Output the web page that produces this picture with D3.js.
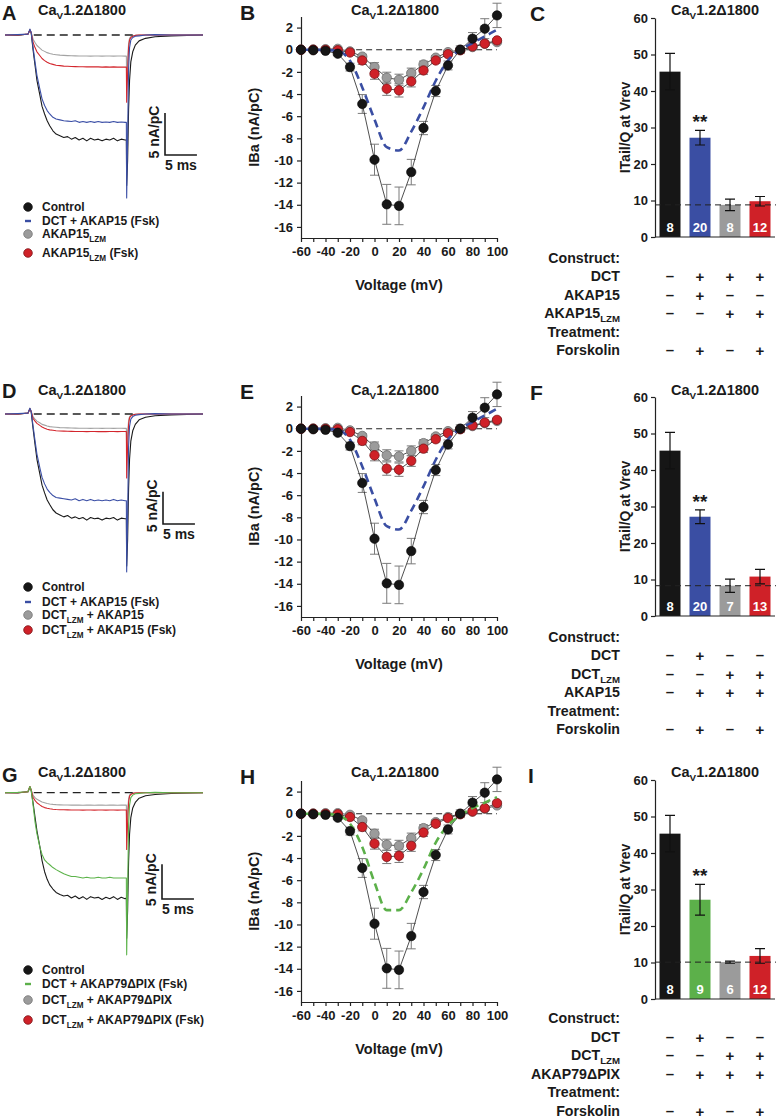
<!DOCTYPE html>
<html><head><meta charset="utf-8">
<script src="https://cdn.jsdelivr.net/npm/d3@7"></script>
<style>
body{margin:0;background:#fff;}
svg text{font-family:"Liberation Sans",Arial,Helvetica,sans-serif;font-weight:bold;}
</style></head><body>
<svg id="fig" width="777" height="1119" xmlns="http://www.w3.org/2000/svg"></svg>
<script>
// ---------------- DATA ----------------
const voltages = [-60,-50,-40,-30,-20,-10,0,10,20,30,40,50,60,70,80,90,100];
const ivControl    = [0,-0.05,-0.1,-0.36,-1.57,-4.9,-9.93,-13.96,-14.1,-11.05,-7.07,-3.73,-1.42,0.0,1.0,1.9,3.1];
const ivControlErr = [0.05,0.05,0.1,0.15,0.35,0.85,1.4,1.8,1.7,1.15,0.6,0.5,0.4,0.35,0.55,0.9,1.1];
const ivGrayB  = [0,0.02,0.05,0.08,-0.15,-0.62,-1.57,-2.53,-2.71,-2.11,-1.33,-0.72,-0.22,0.0,0.24,0.54,0.69];
const ivRedB   = [0,0,-0.02,-0.05,-0.25,-0.97,-2.17,-3.52,-3.67,-2.86,-1.87,-0.97,-0.4,-0.05,0.3,0.55,0.84];
const ivBlueB  = [0,0,-0.03,-0.1,-1.0,-3.4,-6.3,-8.8,-9.1,-7.4,-5.2,-2.8,-0.97,0.0,0.6,1.2,1.8];
const ivGrayE  = [0,0.02,0.05,0.08,-0.15,-0.65,-1.6,-2.4,-2.5,-2.0,-1.3,-0.7,-0.22,0.0,0.24,0.5,0.7];
const ivRedE   = [0,0,-0.02,-0.05,-0.3,-1.1,-2.4,-3.6,-3.7,-2.9,-1.8,-0.95,-0.4,-0.05,0.3,0.55,0.8];
const ivBlueE  = [0,0,-0.03,-0.1,-1.0,-3.4,-6.3,-8.8,-9.1,-7.4,-5.2,-2.8,-0.97,0.0,0.6,1.2,1.8];
const ivGrayH  = [0,0.02,0.05,0.05,-0.1,-0.6,-1.8,-2.8,-2.9,-2.2,-1.3,-0.76,-0.3,0.0,0.2,0.45,0.75];
const ivRedH   = [0,0,-0.02,-0.05,-0.3,-1.2,-2.7,-3.9,-3.8,-2.9,-1.7,-0.9,-0.4,-0.05,0.2,0.5,0.96];
const ivGreenH = [0,0,-0.03,-0.15,-0.9,-3.0,-6.2,-8.7,-8.7,-7.1,-5.0,-2.6,-1.06,-0.15,0.5,1.0,1.5];
const ivGrayErr = [0.05,0.05,0.05,0.1,0.15,0.2,0.4,0.5,0.5,0.45,0.3,0.2,0.15,0.15,0.15,0.15,0.15];
const ivRedErr  = [0.05,0.05,0.05,0.1,0.2,0.35,0.5,0.6,0.6,0.5,0.35,0.25,0.2,0.15,0.15,0.15,0.15];

// current traces (ms, nA/pC)
const traceTime = [0,2,3.6,3.9,4.1,4.4,4.7,5.0,5.5,5.8,6.2,6.6,7.0,7.5,8.0,8.6,9.2,9.8,10.4,11.0,11.6,12.2,12.8,13.4,14.0,14.6,15.2,15.8,16.4,17.0,17.6,18.2,18.8,19.0,19.05,19.2,19.35,19.5,19.7,20.0,20.4,21.0,22.0,23.5,26.0,31.0];
const trA_black = [0,-0.05,0.12,0.6,0.24,-1.8,-3.6,-5.4,-7.3,-8.5,-9.4,-10.2,-10.8,-11.4,-11.8,-12.0,-12.2,-12.1,-12.4,-12.2,-12.5,-12.3,-12.6,-12.3,-12.5,-12.4,-12.6,-12.4,-12.5,-12.3,-12.6,-12.4,-12.5,-12.5,-17.9,-14.9,-8.9,-5.4,-3.2,-2.0,-1.2,-0.7,-0.4,-0.2,-0.1,0];
const trA_blue  = [0,0.05,0.1,0.7,0.3,-1.5,-3.2,-4.8,-6.6,-7.6,-8.4,-9.0,-9.4,-9.8,-10.0,-10.1,-10.2,-10.25,-10.3,-10.2,-10.4,-10.3,-10.4,-10.3,-10.4,-10.3,-10.4,-10.35,-10.4,-10.3,-10.4,-10.35,-10.4,-10.4,-19.4,-12.0,-4.0,-1.5,-0.6,-0.3,-0.15,-0.1,0,0.05,0,0];
const trA_gray  = [0,0,0.1,0.6,0.3,-0.5,-0.9,-1.25,-1.6,-1.8,-1.95,-2.1,-2.2,-2.3,-2.35,-2.4,-2.42,-2.45,-2.47,-2.48,-2.5,-2.5,-2.5,-2.52,-2.5,-2.5,-2.52,-2.5,-2.5,-2.52,-2.5,-2.5,-2.52,-2.5,-5.5,-3.0,-1.0,-0.4,-0.2,-0.1,-0.05,0,0,0,0,0];
const trA_red   = [0,0,0.1,0.6,0.3,-0.9,-1.5,-2.0,-2.5,-2.8,-3.05,-3.25,-3.4,-3.5,-3.6,-3.65,-3.7,-3.72,-3.75,-3.76,-3.78,-3.78,-3.8,-3.8,-3.8,-3.8,-3.82,-3.8,-3.82,-3.8,-3.82,-3.82,-3.82,-3.82,-8.0,-4.5,-1.5,-0.6,-0.3,-0.15,-0.05,0,0,0,0,0];
const trD_black = [0,-0.05,0.15,0.8,0.3,-2.3,-4.7,-7.0,-9.5,-11.0,-12.2,-13.3,-14.0,-14.8,-15.3,-15.6,-15.9,-15.7,-16.1,-15.9,-16.2,-16.0,-16.4,-16.0,-16.2,-16.1,-16.4,-16.1,-16.2,-16.0,-16.4,-16.1,-16.2,-16.2,-23.5,-19.4,-11.6,-7.0,-4.2,-2.6,-1.6,-0.9,-0.5,-0.26,-0.13,0];
const trD_blue  = [0,0.06,0.13,0.9,0.4,-1.9,-4.1,-6.2,-8.5,-9.8,-10.8,-11.6,-12.1,-12.6,-12.9,-13.0,-13.1,-13.2,-13.3,-13.1,-13.4,-13.2,-13.4,-13.2,-13.4,-13.3,-13.4,-13.3,-13.4,-13.2,-13.4,-13.3,-13.4,-13.4,-24.4,-15.4,-5.1,-1.9,-0.8,-0.4,-0.2,-0.1,0,0.06,0,0];
const trD_gray  = [0,0,0.13,0.8,0.4,-0.45,-0.8,-1.1,-1.4,-1.6,-1.72,-1.85,-1.95,-2.0,-2.05,-2.1,-2.12,-2.15,-2.17,-2.18,-2.2,-2.2,-2.2,-2.22,-2.2,-2.2,-2.22,-2.2,-2.2,-2.22,-2.2,-2.2,-2.22,-2.2,-6.0,-3.0,-1.0,-0.4,-0.2,-0.1,-0.05,0,0,0,0,0];
const trD_red   = [0,0,0.13,0.8,0.4,-0.7,-1.1,-1.45,-1.8,-2.0,-2.2,-2.35,-2.45,-2.52,-2.58,-2.62,-2.65,-2.67,-2.68,-2.7,-2.7,-2.7,-2.72,-2.7,-2.7,-2.72,-2.7,-2.72,-2.7,-2.7,-2.72,-2.7,-2.7,-2.72,-9.9,-5.0,-1.6,-0.6,-0.3,-0.15,-0.05,0,0,0,0,0];
const trG_black = [0,-0.05,0.15,0.8,0.3,-1.5,-3.5,-5.5,-8.0,-9.8,-11.4,-12.5,-13.3,-13.9,-14.4,-14.7,-14.9,-14.8,-15.2,-14.9,-15.3,-15.0,-15.4,-15.0,-15.2,-15.1,-15.4,-15.1,-15.3,-15.0,-15.4,-15.1,-15.3,-15.2,-21.0,-17.0,-10.0,-6.0,-3.6,-2.2,-1.4,-0.8,-0.45,-0.25,-0.12,0];
const trG_green = [0,0.05,0.13,0.9,0.4,-1.8,-4.2,-5.9,-8.0,-8.9,-9.7,-10.1,-10.4,-10.8,-11.1,-11.4,-11.7,-11.9,-12.1,-12.1,-12.2,-12.3,-12.2,-12.3,-12.3,-12.2,-12.3,-12.3,-12.2,-12.3,-12.3,-12.3,-12.3,-12.3,-23.4,-14.0,-4.8,-1.8,-0.7,-0.35,-0.15,-0.1,0,0.05,0,0];
const trG_gray  = [0,0,0.13,0.9,0.4,-0.4,-0.7,-0.95,-1.2,-1.35,-1.45,-1.55,-1.62,-1.68,-1.72,-1.75,-1.77,-1.78,-1.8,-1.8,-1.8,-1.82,-1.8,-1.8,-1.82,-1.8,-1.8,-1.82,-1.8,-1.8,-1.82,-1.8,-1.8,-1.8,-5.0,-2.6,-0.9,-0.35,-0.15,-0.08,-0.03,0,0,0,0,0];
const trG_red   = [0,0,0.13,0.9,0.4,-0.7,-1.1,-1.45,-1.8,-2.0,-2.15,-2.25,-2.32,-2.38,-2.42,-2.45,-2.47,-2.48,-2.5,-2.5,-2.5,-2.52,-2.5,-2.5,-2.52,-2.5,-2.5,-2.52,-2.5,-2.5,-2.52,-2.5,-2.5,-2.5,-8.2,-4.2,-1.4,-0.5,-0.25,-0.1,-0.05,0,0,0,0,0];

// bar charts: ITail/Q at Vrev
const barMeansC = [45.3,27.2,8.8,9.8];
const barErrC   = [5.0,2.0,1.6,1.3];
const barNC     = ['8','20','8','12'];
const barMeansF = [45.3,27.2,8.3,10.8];
const barErrF   = [5.0,1.9,1.8,2.0];
const barNF     = ['8','20','7','13'];
const barMeansI = [45.3,27.2,10.1,11.8];
const barErrI   = [5.0,4.2,0.3,2.0];
const barNI     = ['8','9','6','12'];
const barTicks  = [0,10,20,30,40,50,60];

// ---------------- DRAWING ----------------
const FONT = '"Liberation Sans", Arial, Helvetica, sans-serif';
const INK = '#1a1a1a';
const COL = {black:'#161616', blue:'#3a4ea3', gray:'#9b9b9b', red:'#cf2128', green:'#5cb04a'};
const svg = d3.select('#fig');
svg.append('rect').attr('width',777).attr('height',1119).attr('fill','#fff');

function rich(parent, x, y, parts, size, opts={}) {
  const t = parent.append('text').attr('x', x).attr('y', y).attr('font-size', size)
    .attr('text-anchor', opts.anchor || 'start').attr('fill', opts.color || INK)
    .attr('font-family', FONT).attr('font-weight','bold');
  if (opts.rotate) t.attr('transform', `rotate(${opts.rotate},${x},${y})`);
  let shift = 0;
  parts.forEach(p => {
    const s = typeof p === 'string' ? {t:p} : p;
    const ts = t.append('tspan').text(s.t);
    if (s.sub) { const d = size*0.3; ts.attr('font-size', size*0.68).attr('dy', d - shift); shift = d; }
    else if (shift) { ts.attr('dy', -shift); shift = 0; }
  });
  return t;
}
const TITLE = ['Ca',{t:'V',sub:true},'1.2\u03941800'];

function styleAxis(a, size) {
  a.attr('font-family', null).attr('font-size', null);
  a.selectAll('path,line').attr('stroke','#222').attr('stroke-width',1.2);
  a.selectAll('text').attr('font-size', size).attr('font-family', FONT).attr('font-weight','bold').attr('fill', INK);
}

// ---------- current traces ----------
function drawTraces(cfg) {
  const g = svg.append('g');
  const x = d3.scaleLinear().domain([0,31]).range([5,203]);
  const y = d3.scaleLinear().domain([0,-1]).range([cfg.base, cfg.base + cfg.k]);
  rich(g, 2, cfg.letterY, [cfg.letter], 20);
  rich(g, 38, cfg.titleY, TITLE, 14.5);
  const line = d3.line().x((d,i)=>x(traceTime[i])).y(d=>y(d));
  cfg.traces.forEach(tr => {
    g.append('path').attr('d', line(tr.v)).attr('fill','none').attr('stroke', tr.c).attr('stroke-width',1.1).attr('stroke-linejoin','round');
  });
  g.append('line').attr('x1', x(4.5)).attr('x2', x(20.4)).attr('y1', y(0)).attr('y2', y(0))
    .attr('stroke','#222').attr('stroke-width',1.3).attr('stroke-dasharray','8,5');
  const sx = cfg.sbX, sy = cfg.sbY;
  const vLen = y(-5) - y(0), hLen = x(5) - x(0);
  g.append('path').attr('d', `M${sx},${sy - vLen}V${sy}H${sx + hLen}`).attr('fill','none').attr('stroke', INK).attr('stroke-width',1.6);
  rich(g, sx - 6, sy - vLen/2 - 2, ['5 nA/pC'], 14, {anchor:'middle', rotate:-90});
  rich(g, sx + hLen/2, sy + 15, ['5 ms'], 14, {anchor:'middle'});
  cfg.legend.forEach((L, i) => {
    const ly = cfg.legendY[i];
    if (L.type === 'dot') g.append('circle').attr('cx',28).attr('cy',ly).attr('r',4.3).attr('fill',L.c).attr('stroke',L.s||L.c).attr('stroke-width',0.8);
    else g.append('line').attr('x1',25).attr('x2',31).attr('y1',ly).attr('y2',ly).attr('stroke',L.c).attr('stroke-width',2.4);
    rich(g, 42, ly + 4.3, L.parts, 12);
  });
}

// ---------- IV curves ----------
function drawIV(cfg) {
  const g = svg.append('g');
  const oy = cfg.oy;
  const x = d3.scaleLinear().domain([-60,100]).range([301,497]);
  const y = d3.scaleLinear().domain([-17,3]).range([238+oy, 16.5+oy]);
  rich(g, 240, 20 + oy, [cfg.letter], 21);
  rich(g, 395, 15 + cfg.ty, TITLE, 14.5, {anchor:'middle'});
  const xa = g.append('g').attr('transform',`translate(0,${y(-17)})`)
    .call(d3.axisBottom(x).tickValues(d3.range(-60,101,10)).tickSizeInner(4).tickSizeOuter(0).tickPadding(5)
      .tickFormat(d => d % 20 === 0 ? String(d) : ''));
  const ya = g.append('g').attr('transform',`translate(${x(-60)},0)`)
    .call(d3.axisLeft(y).tickValues(d3.range(-16,3,2)).tickSizeInner(4).tickSizeOuter(0).tickPadding(4)
      .tickFormat(d => String(d)));
  styleAxis(xa, 13); styleAxis(ya, 13);
  rich(g, (x(-60)+x(100))/2, 290 + oy, ['Voltage (mV)'], 14.5, {anchor:'middle'});
  rich(g, 259, y(-7) , ['IBa (nA/pC)'], 14.5, {anchor:'middle', rotate:-90});
  g.append('line').attr('x1', x(-15)).attr('x2', x(100)).attr('y1', y(0)).attr('y2', y(0))
    .attr('stroke','#222').attr('stroke-width',1.1).attr('stroke-dasharray','6,4');
  const series = [
    {v: cfg.gray, e: ivGrayErr, f: COL.gray, s:'#6f6f6f'},
    {v: cfg.red,  e: ivRedErr,  f: COL.red,  s:'#7d1418'},
    {v: ivControl, e: ivControlErr, f: COL.black, s:'#000'}
  ];
  series.forEach(S => {
    g.append('g').selectAll('path').data(voltages).join('path')
      .attr('d', (v,i) => {
        const cx = x(v), y1 = y(S.v[i] + S.e[i]), y2 = y(S.v[i] - S.e[i]);
        return `M${cx},${y1}V${y2}M${cx-4.5},${y1}H${cx+4.5}M${cx-4.5},${y2}H${cx+4.5}`;
      })
      .attr('fill','none').attr('stroke','#7a7a7a').attr('stroke-width',1);
  });
  const line = d3.line().x((d,i)=>x(voltages[i])).y(d=>y(d));
  series.forEach(S => g.append('path').attr('d', line(S.v)).attr('fill','none').attr('stroke','#222').attr('stroke-width',0.8));
  series.slice(0,2).forEach(S => {
    g.append('g').selectAll('circle').data(S.v).join('circle')
      .attr('cx',(d,i)=>x(voltages[i])).attr('cy',d=>y(d)).attr('r',4.7)
      .attr('fill',S.f).attr('stroke',S.s).attr('stroke-width',0.8);
  });
  g.append('path').attr('d', d3.line().curve(d3.curveMonotoneX).x((d,i)=>x(voltages[i])).y(d=>y(d))(cfg.dash))
    .attr('fill','none').attr('stroke',cfg.dashColor).attr('stroke-width',2.6).attr('stroke-dasharray','8,5');
  const S = series[2];
  g.append('g').selectAll('circle').data(S.v).join('circle')
    .attr('cx',(d,i)=>x(voltages[i])).attr('cy',d=>y(d)).attr('r',4.7)
    .attr('fill',S.f).attr('stroke',S.s).attr('stroke-width',0.6);
}

// ---------- bar charts ----------
function drawBars(cfg) {
  const g = svg.append('g');
  const oy = cfg.oy;
  const x = d3.scaleBand().domain(d3.range(4)).range([655, 775]).paddingInner(0.3).paddingOuter(0.15);
  const y = d3.scaleLinear().domain([0,60]).range([237+oy, 18+oy]);
  rich(g, cfg.letterX, 21 + oy, [cfg.letter], 21);
  rich(g, 715, 15 + cfg.ty, TITLE, 14.5, {anchor:'middle'});
  const ya = g.append('g').attr('transform',`translate(${x.range()[0]},0)`)
    .call(d3.axisLeft(y).tickValues(barTicks).tickSizeInner(4).tickSizeOuter(0).tickPadding(3).tickFormat(d=>String(d)));
  styleAxis(ya, 13);
  rich(g, 630, y(30), ['ITail/Q at Vrev'], 14, {anchor:'middle', rotate:-90});
  g.selectAll('rect.bar').data(cfg.means).join('rect').attr('class','bar')
    .attr('x',(d,i)=>x(i)).attr('width',x.bandwidth()).attr('y',d=>y(d)).attr('height',d=>y(0)-y(d))
    .attr('fill',(d,i)=>cfg.colors[i]);
  g.append('line').attr('x1',x.range()[0]).attr('x2',x.range()[1]).attr('y1',y(0)).attr('y2',y(0)).attr('stroke','#222').attr('stroke-width',1.2);
  g.selectAll('path.err').data(cfg.means).join('path').attr('class','err')
    .attr('d',(d,i)=>{ const cx = x(i)+x.bandwidth()/2, y1=y(d+cfg.errs[i]), y2=y(d-cfg.errs[i]);
      return `M${cx},${y1}V${y2}M${cx-5},${y1}H${cx+5}M${cx-5},${y2}H${cx+5}`; })
    .attr('fill','none').attr('stroke','#111').attr('stroke-width',1.2);
  g.append('line').attr('x1',x.range()[0]).attr('x2',776).attr('y1',y(cfg.means[2])).attr('y2',y(cfg.means[2]))
    .attr('stroke','#222').attr('stroke-width',1).attr('stroke-dasharray','6,4');
  cfg.ns.forEach((n,i)=> rich(g, x(i)+x.bandwidth()/2, y(0)-5, [n], 13, {anchor:'middle', color:'#fff'}));
  rich(g, x(1)+x.bandwidth()/2, y(cfg.means[1]+cfg.errs[1]) - 2, ['**'], 19, {anchor:'middle'});
  const rowY = [262.5, 281, 299.5, 318, 336.5, 355];
  cfg.rows.forEach((r, k) => {
    const by = rowY[k] + cfg.toy;
    rich(g, 620, by, r.parts, 14.2, {anchor:'end'});
    if (r.marks) r.marks.forEach((m,i)=> rich(g, x(i)+x.bandwidth()/2, by + (m==='+'?1:0), [m], 15, {anchor:'middle'}));
  });
}

// ---------- assemble ----------
const SUB = s => ({t:s, sub:true});
drawTraces({letter:'A', letterY:20, titleY:15, base:35, k:8.4, sbX:165, sbY:155,
  traces:[{v:trA_black,c:'#1a1a1a'},{v:trA_gray,c:'#a3a3a3'},{v:trA_red,c:'#d3262d'},{v:trA_blue,c:'#3b4fa6'}],
  legendY:[207,221,234,253],
  legend:[{type:'dot',c:COL.black,parts:['Control']},{type:'dash',c:COL.blue,parts:['DCT + AKAP15 (Fsk)']},
          {type:'dot',c:COL.gray,s:'#777',parts:['AKAP15',SUB('LZM')]},{type:'dot',c:COL.red,s:'#7d1418',parts:['AKAP15',SUB('LZM'),' (Fsk)']}]});
drawTraces({letter:'D', letterY:398, titleY:395, base:414, k:6.47, sbX:163, sbY:524,
  traces:[{v:trD_black,c:'#1a1a1a'},{v:trD_gray,c:'#a3a3a3'},{v:trD_red,c:'#d3262d'},{v:trD_blue,c:'#3b4fa6'}],
  legendY:[587,602,615,630],
  legend:[{type:'dot',c:COL.black,parts:['Control']},{type:'dash',c:COL.blue,parts:['DCT + AKAP15 (Fsk)']},
          {type:'dot',c:COL.gray,s:'#777',parts:['DCT',SUB('LZM'),' + AKAP15']},{type:'dot',c:COL.red,s:'#7d1418',parts:['DCT',SUB('LZM'),' + AKAP15 (Fsk)']}]});
drawTraces({letter:'G', letterY:782, titleY:777, base:792.7, k:6.93, sbX:162, sbY:899,
  traces:[{v:trG_black,c:'#1a1a1a'},{v:trG_gray,c:'#a3a3a3'},{v:trG_red,c:'#d3262d'},{v:trG_green,c:'#5cb34a'}],
  legendY:[970,984,1000,1020],
  legend:[{type:'dot',c:COL.black,parts:['Control']},{type:'dash',c:COL.green,parts:['DCT + AKAP79\u0394PIX (Fsk)']},
          {type:'dot',c:COL.gray,s:'#777',parts:['DCT',SUB('LZM'),' + AKAP79\u0394PIX']},{type:'dot',c:COL.red,s:'#7d1418',parts:['DCT',SUB('LZM'),' + AKAP79\u0394PIX (Fsk)']}]});

drawIV({letter:'B', oy:0, ty:0, gray:ivGrayB, red:ivRedB, dash:ivBlueB, dashColor:COL.blue});
drawIV({letter:'E', oy:379, ty:380, gray:ivGrayE, red:ivRedE, dash:ivBlueE, dashColor:COL.blue});
drawIV({letter:'H', oy:764, ty:762, gray:ivGrayH, red:ivRedH, dash:ivGreenH, dashColor:'#5cb04a'});

const M='\u2013', P='+';
drawBars({letter:'C', letterX:530, oy:0, ty:0, toy:0, means:barMeansC, errs:barErrC, ns:barNC,
  colors:[COL.black,COL.blue,COL.gray,COL.red],
  rows:[{parts:['Construct:']},{parts:['DCT'],marks:[M,P,P,P]},{parts:['AKAP15'],marks:[M,P,M,M]},
        {parts:['AKAP15',SUB('LZM')],marks:[M,M,P,P]},{parts:['Treatment:']},{parts:['Forskolin'],marks:[M,P,M,P]}]});
drawBars({letter:'F', letterX:530, oy:379, ty:380, toy:379, means:barMeansF, errs:barErrF, ns:barNF,
  colors:[COL.black,COL.blue,COL.gray,COL.red],
  rows:[{parts:['Construct:']},{parts:['DCT'],marks:[M,P,M,M]},{parts:['DCT',SUB('LZM')],marks:[M,M,P,P]},
        {parts:['AKAP15'],marks:[M,P,P,P]},{parts:['Treatment:']},{parts:['Forskolin'],marks:[M,P,M,P]}]});
drawBars({letter:'I', letterX:528, oy:762, ty:762, toy:760.5, means:barMeansI, errs:barErrI, ns:barNI,
  colors:[COL.black,COL.green,COL.gray,COL.red],
  rows:[{parts:['Construct:']},{parts:['DCT'],marks:[M,P,M,M]},{parts:['DCT',SUB('LZM')],marks:[M,M,P,P]},
        {parts:['AKAP79\u0394PIX'],marks:[M,P,P,P]},{parts:['Treatment:']},{parts:['Forskolin'],marks:[M,P,M,P]}]});
</script>
</body></html>
